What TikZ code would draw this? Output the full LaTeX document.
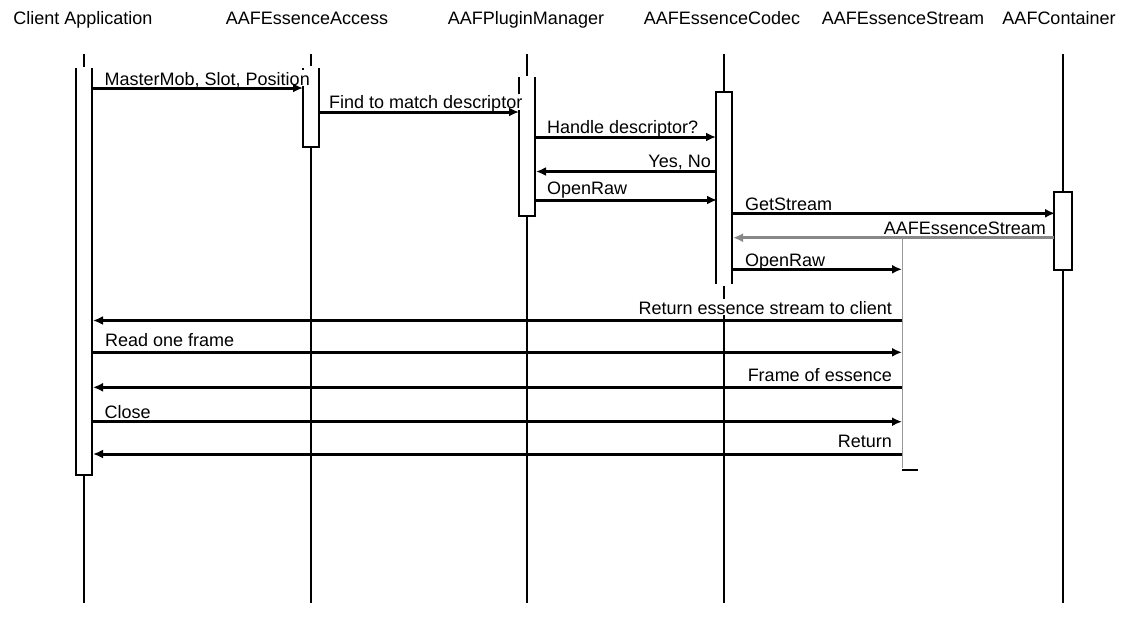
\documentclass[tikz,border=0pt]{standalone}
\usepackage{fontspec}
\setmainfont{Liberation Sans}
\usetikzlibrary{arrows.meta}
\definecolor{retgray}{HTML}{888888}
\definecolor{lightline}{HTML}{999999}
\begin{document}
\begin{tikzpicture}[x=1pt,y=-1pt,
  lifeline/.style={line width=2.8pt},
  actbox/.style={line width=2.8pt, fill=white, line join=miter},
  msg/.style={line width=3pt, -{Latex[length=10pt,width=9pt]}},
  graymsg/.style={msg, draw=retgray},
  title/.style={anchor=base, font=\fontsize{18}{21}\selectfont, inner sep=0pt},
  lblL/.style={anchor=base west, fill=white, font=\fontsize{18}{21}\selectfont,
    inner xsep=1pt, inner ysep=1pt, text height=14pt, text depth=0pt},
  lblR/.style={lblL, anchor=base east},
]
\useasboundingbox (0,0) rectangle (1123,630);

% titles
\node[title] (tClient) at (83,24) {Client Application};
\node[title] (tAccess) at (307,24) {AAFEssenceAccess};
\node[title] (tPlugin) at (526,24) {AAFPluginManager};
\node[title] (tCodec) at (722,24) {AAFEssenceCodec};
\node[title] (tStream) at (903,24) {AAFEssenceStream};
\node[title] (tCont) at (1059,24) {AAFContainer};

% Client Application
\draw[lifeline] (84,54) -- (84,67);
\draw[actbox] (76,68) -- (76,475) -- (92,475) -- (92,68);
\draw[lifeline] (84,475) -- (84,603);

% AAFEssenceAccess
\draw[lifeline] (311,54) -- (311,66);
\draw[actbox] (303,68) -- (303,147) -- (319,147) -- (319,68);
\draw[lifeline] (311,147) -- (311,603);

% AAFPluginManager
\draw[lifeline] (527,54) -- (527,76);
\draw[actbox] (519,77) -- (519,216) -- (535,216) -- (535,77);
\draw[lifeline] (527,216) -- (527,603);

% AAFEssenceCodec
\draw[lifeline] (724,54) -- (724,92);
\draw[actbox] (716,284) -- (716,92) -- (732,92) -- (732,284);
\draw[lifeline] (724,286) -- (724,603);

% AAFContainer
\draw[lifeline] (1063,54) -- (1063,192);
\draw[actbox] (1054,192) rectangle (1072,270);
\draw[lifeline] (1063,270) -- (1063,603);

% AAFEssenceStream
\draw[lightline, line width=1pt] (902,237) -- (902,468);
\draw[line width=2.8pt] (901.5,470) -- (918,470);

% labels
\node[lblL] (l1) at (103.5,85) {MasterMob, Slot, Position};
\node[lblL] (l2) at (328,108.5) {Find to match descriptor};
\node[lblL] (l3) at (546,133) {Handle descriptor?};
\node[lblR] (l4) at (712,167) {Yes, No};
\node[lblL] (l5) at (546,194) {OpenRaw};
\node[lblL] (l6) at (744,210) {GetStream};
\node[lblR] (l7) at (1047,234) {AAFEssenceStream};
\node[lblL] (l8) at (744,266) {OpenRaw};
\node[lblR] (l9) at (893,314) {Return essence stream to client};
\node[lblL] (l10) at (104,346) {Read one frame};
\node[lblR] (l11) at (893,381) {Frame of essence};
\node[lblL] (l12) at (103.5,418.5) {Close};
\node[lblR] (l13) at (893,447.5) {Return};

% message end points
\coordinate (m1a) at (92,88);     \coordinate (m1b) at (303,88);
\coordinate (m2a) at (319,112);   \coordinate (m2b) at (519,112);
\coordinate (m3a) at (535,137);   \coordinate (m3b) at (716,137);
\coordinate (m4a) at (716,171.5); \coordinate (m4b) at (536,171.5);
\coordinate (m5a) at (535,200);   \coordinate (m5b) at (717,200);
\coordinate (m6a) at (732,213.3); \coordinate (m6b) at (1055,213.3);
\coordinate (m7a) at (1054,237.7);\coordinate (m7b) at (733,237.7);
\coordinate (m8a) at (732,269.3); \coordinate (m8b) at (902,269.3);
\coordinate (m9a) at (902,320.5); \coordinate (m9b) at (93,320.5);
\coordinate (m10a) at (92,352.3); \coordinate (m10b) at (902,352.3);
\coordinate (m11a) at (902,387.3);\coordinate (m11b) at (93,387.3);
\coordinate (m12a) at (92,421.7); \coordinate (m12b) at (902,421.7);
\coordinate (m13a) at (902,454);  \coordinate (m13b) at (93,454);

% messages
\draw[msg] (m1a) -- (m1b);
\draw[msg] (m2a) -- (m2b);
\draw[msg] (m3a) -- (m3b);
\draw[msg] (m4a) -- (m4b);
\draw[msg] (m5a) -- (m5b);
\draw[msg] (m6a) -- (m6b);
\draw[graymsg] (m7a) -- (m7b);
\draw[msg] (m8a) -- (m8b);
\draw[msg] (m9a) -- (m9b);
\draw[msg] (m10a) -- (m10b);
\draw[msg] (m11a) -- (m11b);
\draw[msg] (m12a) -- (m12b);
\draw[msg] (m13a) -- (m13b);
\end{tikzpicture}
\end{document}
